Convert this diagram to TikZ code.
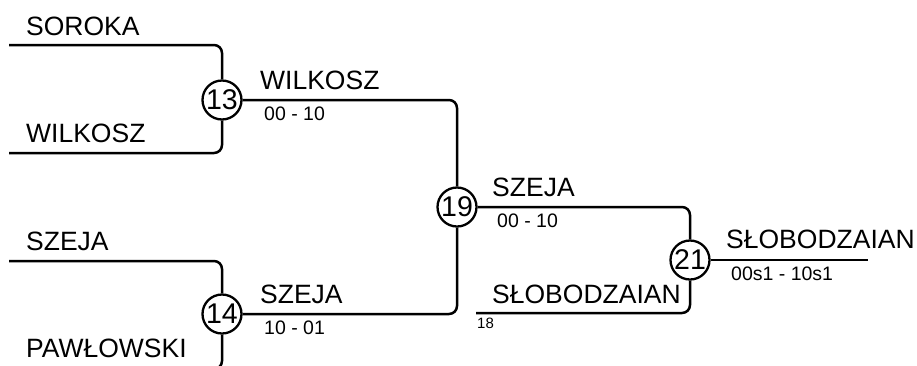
\documentclass[tikz,border=0pt]{standalone}
\usepackage{fontspec}
\setmainfont{Liberation Sans}
\begin{document}
\begin{tikzpicture}[x=1pt,y=-1pt,
  wire/.style={line width=2.5pt,rounded corners=8pt},
  matchc/.style={circle,draw,line width=2.3pt,minimum size=39pt,inner sep=0pt,font=\fontsize{28.5}{28.5}\selectfont},
  pname/.style={anchor=base west,inner sep=0pt,font=\fontsize{26.5}{26.5}\selectfont},
  pscore/.style={anchor=base west,inner sep=0pt,font=\fontsize{19.5}{19.5}\selectfont},
  psmall/.style={anchor=base west,inner sep=0pt,font=\fontsize{15}{15}\selectfont}]
\useasboundingbox (0,0) rectangle (917,365);
\clip (0,0) rectangle (917,365);
% matches
\node[matchc] (m13) at (222,100) {13};
\node[matchc] (m14) at (222,314) {14};
\node[matchc] (m19) at (457,207) {19};
\node[matchc] (m21) at (690,260) {21};
% free ends
\coordinate (a1) at (9,45);
\coordinate (a2) at (9,153);
\coordinate (a3) at (9,261);
\coordinate (a4) at (9,369);
\coordinate (b1) at (476,313);
\coordinate (fin) at (868,260);
% connectors
\draw[wire] (a1) -| (m13);
\draw[wire] (a2) -| (m13);
\draw[wire] (a3) -| (m14);
\draw[wire] (a4) -| (m14);
\draw[wire] (m13) -| (m19);
\draw[wire] (m14) -| (m19);
\draw[wire] (m19) -| (m21);
\draw[wire] (b1) -| (m21);
\draw[wire] (m21) -- (fin);
% labels
\node[pname] (t1) at (26,35) {SOROKA};
\node[pname] (t2) at (26,142) {WILKOSZ};
\node[pname] (t3) at (26,250) {SZEJA};
\node[pname] (t4) at (26,357) {PAWŁOWSKI};
\node[pname] (w13) at (260,89) {WILKOSZ};
\node[pscore] (s13) at (264,120) {00 - 10};
\node[pname] (w14) at (260,303) {SZEJA};
\node[pscore] (s14) at (264,334) {10 - 01};
\node[pname] (w19) at (492,196) {SZEJA};
\node[pscore] (s19) at (497,227) {00 - 10};
\node[pname] (l21) at (492,303) {SŁOBODZAIAN};
\node[psmall] (n18) at (477,328) {18};
\node[pname] (w21) at (726,248) {SŁOBODZAIAN};
\node[pscore] (s21) at (731,280) {00s1 - 10s1};
\end{tikzpicture}
\end{document}
